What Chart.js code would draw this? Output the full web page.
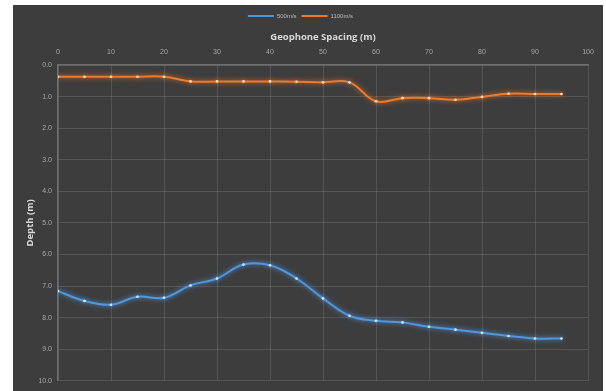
<!DOCTYPE html>
<html>
<head>
<meta charset="utf-8">
<script src="https://cdn.jsdelivr.net/npm/chart.js@4/dist/chart.umd.min.js"></script>
<style>
  html, body { margin: 0; padding: 0; background: #ffffff; }
  #card { position: absolute; left: 13px; top: 5px; width: 590px; height: 386px; background: #3d3d3d; }
</style>
</head>
<body>
<div id="card"><canvas id="chart"></canvas></div>
<script>
// Geophone positions along the line (m)
const spacing = [0, 5, 10, 15, 20, 25, 30, 35, 40, 45, 50, 55, 60, 65, 70, 75, 80, 85, 90, 95];
// Refractor depths (m) for each velocity layer
const depth500 = [7.16, 7.47, 7.59, 7.34, 7.37, 6.98, 6.76, 6.32, 6.34, 6.76, 7.39, 7.94, 8.10, 8.15, 8.29, 8.38, 8.48, 8.58, 8.66, 8.66];
const depth1100 = [0.37, 0.37, 0.37, 0.37, 0.37, 0.52, 0.52, 0.52, 0.52, 0.53, 0.55, 0.55, 1.15, 1.05, 1.05, 1.10, 1.01, 0.91, 0.92, 0.92];
const seriesNames = ['500m/s', '1100m/s'];
const xTicks = [0, 10, 20, 30, 40, 50, 60, 70, 80, 90, 100];
const yTicks = [0, 1, 2, 3, 4, 5, 6, 7, 8, 9, 10];

const pts = arr => spacing.map((x, i) => ({ x: x, y: arr[i] }));

// Soft glow around each line
const glow = {
  id: 'glow',
  beforeDatasetDraw(chart, args) {
    const ds = chart.data.datasets[args.index];
    chart.ctx.save();
    chart.ctx.shadowColor = ds.glowColor;
    chart.ctx.shadowBlur = 5;
  },
  afterDatasetDraw(chart) {
    chart.ctx.restore();
  }
};

const tickColor = '#a8a8a8';
const titleColor = '#d9d9d9';
const gridColor = 'rgba(255,255,255,0.12)';
const padTop = 3;

new Chart(document.getElementById('chart'), {
  type: 'line',
  data: {
    datasets: [
      {
        label: seriesNames[0], data: pts(depth500),
        borderColor: '#4f98e0', backgroundColor: '#4f98e0', glowColor: 'rgba(90,160,240,0.9)',
        borderWidth: 2, tension: 0.4,
        pointRadius: 1.3, pointBackgroundColor: '#d8ecff', pointBorderWidth: 0
      },
      {
        label: seriesNames[1], data: pts(depth1100),
        borderColor: '#f07a2a', backgroundColor: '#f07a2a', glowColor: 'rgba(240,120,40,0.9)',
        borderWidth: 2, tension: 0.4,
        pointRadius: 1.3, pointBackgroundColor: '#ffe2cc', pointBorderWidth: 0
      }
    ]
  },
  options: {
    responsive: true,
    maintainAspectRatio: false,
    animation: false,
    layout: { padding: { left: 0, right: 15, top: padTop, bottom: 7 } },
    plugins: {
      legend: {
        position: 'top',
        labels: {
          color: '#bdbdbd',
          font: { family: 'Liberation Sans', size: 6 },
          usePointStyle: true, pointStyleWidth: 26, boxHeight: 6,
          padding: 5,
          generateLabels: chart => chart.data.datasets.map((ds, i) => ({
            text: ds.label,
            datasetIndex: i,
            pointStyle: 'line',
            strokeStyle: ds.borderColor,
            fillStyle: ds.borderColor,
            lineWidth: 2,
            fontColor: '#bdbdbd',
            hidden: false
          }))
        }
      },
      tooltip: { enabled: false }
    },
    scales: {
      x: {
        type: 'linear', position: 'top', min: 0, max: 100,
        afterBuildTicks: s => { s.ticks = xTicks.map(v => ({ value: v })); },
        afterFit: s => { s.height = 60 - padTop - s.chart.legend.height; },
        ticks: { color: tickColor, font: { family: 'Liberation Sans', size: 7 }, padding: 9, maxRotation: 0 },
        grid: { color: gridColor, drawTicks: false },
        border: { color: '#6e6e6e', width: 1.5 },
        title: { display: true, text: 'Geophone Spacing (m)', color: titleColor,
                 font: { family: 'Open Sans', size: 9.5, weight: 'bold' }, padding: { top: 3, bottom: 0 } }
      },
      y: {
        type: 'linear', reverse: true, min: 0, max: 10,
        afterBuildTicks: s => { s.ticks = yTicks.map(v => ({ value: v })); },
        afterFit: s => { s.width = 45; },
        ticks: { color: tickColor, font: { family: 'Liberation Sans', size: 7 }, padding: 6,
                 callback: v => Number(v).toFixed(1) },
        grid: { color: gridColor, drawTicks: false },
        border: { color: '#6e6e6e', width: 1.5 },
        title: { display: true, text: 'Depth (m)', color: titleColor,
                 font: { family: 'Open Sans', size: 9.5, weight: 'bold' }, padding: { top: 12, bottom: 0 } }
      }
    }
  },
  plugins: [glow]
});
</script>
</body>
</html>
